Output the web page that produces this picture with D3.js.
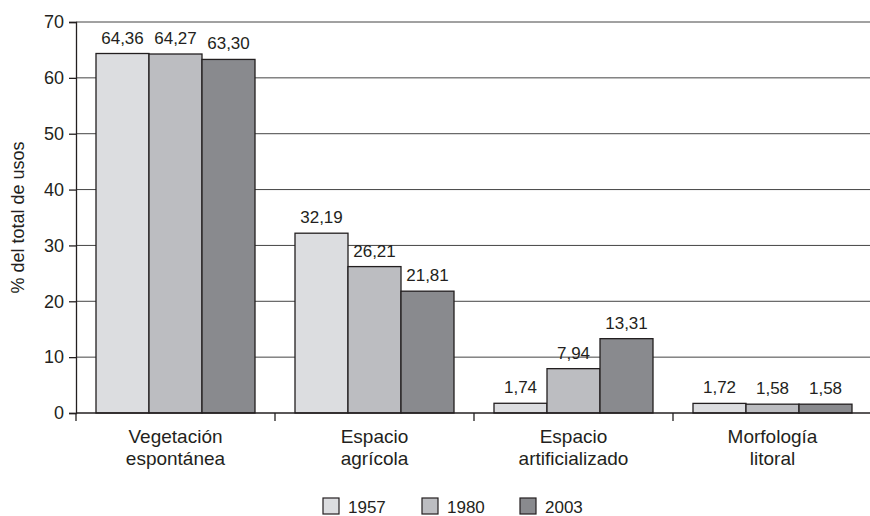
<!DOCTYPE html>
<html>
<head>
<meta charset="utf-8">
<script src="https://cdn.jsdelivr.net/npm/d3@7"></script>
<style>
  body { margin: 0; background: #fff; }
  text { font-family: "Liberation Sans", Arial, sans-serif; fill: #231f20; }
</style>
</head>
<body>
<script>
// data
let categories = [["Vegetación", "espontánea"], ["Espacio", "agrícola"], ["Espacio", "artificializado"], ["Morfología", "litoral"]];
let years = ["1957", "1980", "2003"];
let v1957 = [64.36, 32.19, 1.74, 1.72];
let v1980 = [64.27, 26.21, 7.94, 1.58];
let v2003 = [63.30, 21.81, 13.31, 1.58];
let yTicks = [0, 10, 20, 30, 40, 50, 60, 70];
let colors = ["#dcdde0", "#bcbdc1", "#898a8e"];

let canvasW = 870;
let canvasH = 516;
let plotL = 76, plotT = 22, plotB = 413, plotR = 872;

let svg = d3.select("body").append("svg")
  .attr("width", canvasW)
  .attr("height", canvasH);

let series = [v1957, v1980, v2003];

let x = d3.scaleBand()
  .domain(d3.range(categories.length))
  .range([plotL, plotR]);

let xInner = d3.scaleBand()
  .domain(years)
  .range([0, x.bandwidth()])
  .paddingOuter(20 / 53)
  .paddingInner(0);

let y = d3.scaleLinear()
  .domain([0, 70])
  .range([plotB, plotT]);

// grid lines
svg.append("g")
  .selectAll("line")
  .data(yTicks.filter(d => d > 0))
  .enter()
    .append("line")
    .attr("x1", plotL)
    .attr("x2", canvasW)
    .attr("y1", d => y(d))
    .attr("y2", d => y(d))
    .attr("stroke", "#444")
    .attr("stroke-width", 1);

// bars
let rows = [];
categories.forEach((c, i) => {
  years.forEach((yr, j) => {
    rows.push({ cat: i, year: yr, value: series[j][i], color: colors[j] });
  });
});

svg.append("g")
  .selectAll("rect")
  .data(rows)
  .enter()
    .append("rect")
    .attr("x", d => x(d.cat) + xInner(d.year))
    .attr("y", d => y(d.value))
    .attr("width", xInner.bandwidth())
    .attr("height", d => plotB - y(d.value))
    .attr("fill", d => d.color)
    .attr("stroke", "#231f20")
    .attr("stroke-width", 1.3);

// value labels
svg.append("g")
  .selectAll("text")
  .data(rows)
  .enter()
    .append("text")
    .attr("x", d => x(d.cat) + xInner(d.year) + xInner.bandwidth() / 2)
    .attr("y", d => y(d.value) - 10)
    .attr("text-anchor", "middle")
    .attr("font-size", "17px")
    .text(d => d3.format(".2f")(d.value).replace(".", ","));

// y axis
let yAxis = svg.append("g")
  .attr("transform", "translate(" + plotL + ",0)")
  .call(d3.axisLeft(y).tickValues(yTicks).tickSize(7).tickPadding(5));
yAxis.select(".domain").attr("stroke", "#231f20").attr("stroke-width", 1.3);
yAxis.selectAll(".tick line").attr("stroke", "#231f20").attr("stroke-width", 1.3);
yAxis.selectAll(".tick text")
  .attr("font-size", "18px")
  .attr("font-family", "Liberation Sans, Arial, sans-serif")
  .attr("fill", "#231f20");

// x axis line + category ticks
svg.append("line")
  .attr("x1", plotL)
  .attr("x2", canvasW)
  .attr("y1", plotB)
  .attr("y2", plotB)
  .attr("stroke", "#231f20")
  .attr("stroke-width", 1.3);

svg.append("g")
  .selectAll("line")
  .data(d3.range(categories.length))
  .enter()
    .append("line")
    .attr("x1", d => x(d))
    .attr("x2", d => x(d))
    .attr("y1", plotB)
    .attr("y2", plotB + 8)
    .attr("stroke", "#231f20")
    .attr("stroke-width", 1.3);

// category labels
let catText = svg.append("g")
  .selectAll("text")
  .data(categories)
  .enter()
    .append("text")
    .attr("text-anchor", "middle")
    .attr("font-size", "19px")
    .attr("x", (d, i) => x(i) + x.bandwidth() / 2)
    .attr("y", 443);

catText.each(function(d, i) {
  d3.select(this).selectAll("tspan")
    .data(d)
    .enter()
      .append("tspan")
      .attr("x", x(i) + x.bandwidth() / 2)
      .attr("dy", (t, k) => k == 0 ? 0 : 22)
      .text(t => t);
});

// y title
svg.append("text")
  .attr("text-anchor", "middle")
  .attr("font-size", "18px")
  .attr("transform", "translate(24," + ((plotT + plotB) / 2) + ") rotate(-90)")
  .text("% del total de usos");

// legend
let legendX = [323, 422, 520];
let legend = svg.append("g")
  .selectAll("g")
  .data(years)
  .enter()
    .append("g")
    .attr("transform", (d, i) => "translate(" + legendX[i] + ",498)");

legend.append("rect")
  .attr("width", 16)
  .attr("height", 16)
  .attr("fill", (d, i) => colors[i])
  .attr("stroke", "#231f20")
  .attr("stroke-width", 1.2);

legend.append("text")
  .attr("x", 25)
  .attr("y", 15)
  .attr("font-size", "17px")
  .text(d => d);
</script>
</body>
</html>
